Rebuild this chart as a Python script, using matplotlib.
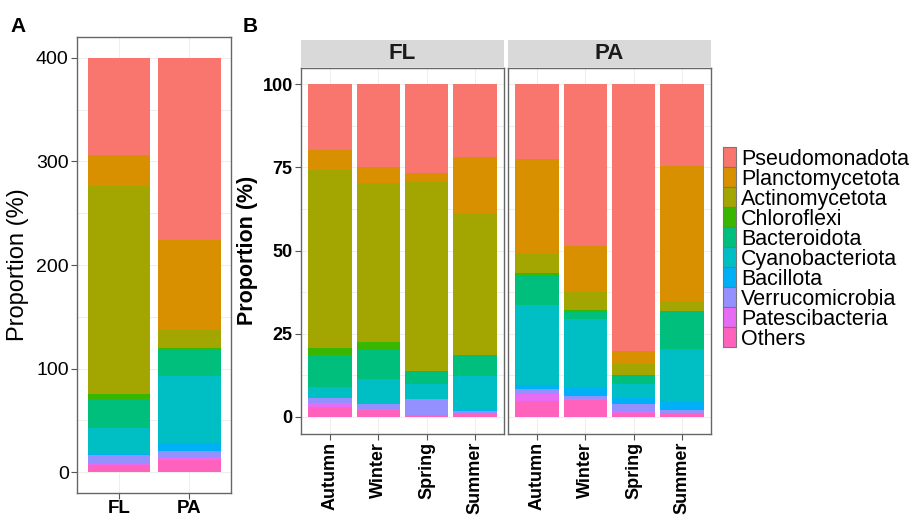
import numpy as np
import matplotlib
matplotlib.use("Agg")
import matplotlib.pyplot as plt
from matplotlib.patches import Rectangle
from matplotlib.ticker import MultipleLocator

plt.rcParams['font.family'] = ['Liberation Sans', 'DejaVu Sans']

# phyla in legend order (top of stack first)
phyla = ['Pseudomonadota', 'Planctomycetota', 'Actinomycetota', 'Chloroflexi',
         'Bacteroidota', 'Cyanobacteriota', 'Bacillota', 'Verrucomicrobia',
         'Patescibacteria', 'Others']
colors = ['#F8766D', '#D89000', '#A3A500', '#39B600', '#00BF7D',
          '#00BFC4', '#00B0F6', '#9590FF', '#E76BF3', '#FF62BC']
seasons = ['Autumn', 'Winter', 'Spring', 'Summer']
fractions = ['FL', 'PA']

# relative abundance (%) per phylum (rows) and season (columns)
fl_props = [
    [19.8, 25.0, 26.6, 22.0],
    [6.1, 4.8, 2.9, 16.8],
    [53.5, 47.7, 56.7, 42.6],
    [2.0, 2.2, 0.4, 0.1],
    [9.7, 8.9, 3.4, 6.3],
    [3.2, 7.4, 4.5, 10.2],
    [0.1, 0.1, 0.1, 0.1],
    [1.5, 1.5, 4.8, 0.6],
    [1.0, 0.2, 0.1, 0.1],
    [3.1, 2.2, 0.5, 1.2],
]
pa_props = [
    [22.4, 48.5, 80.1, 24.7],
    [28.7, 14.1, 3.9, 40.6],
    [5.8, 5.4, 3.5, 2.8],
    [0.4, 0.1, 0.1, 0.1],
    [9.0, 2.5, 2.6, 11.5],
    [24.1, 20.8, 4.1, 15.6],
    [1.3, 2.2, 1.7, 2.5],
    [1.3, 1.1, 2.6, 1.0],
    [2.3, 0.3, 0.1, 0.1],
    [4.7, 5.0, 1.3, 1.1],
]

W, H = 919, 516
fig = plt.figure(figsize=(W / 100, H / 100), dpi=100)


def px_axes(x0, y0, x1, y1):
    return fig.add_axes([x0 / W, 1 - y1 / H, (x1 - x0) / W, (y1 - y0) / H])


def style(ax, ystep):
    ax.set_facecolor('white')
    for s in ax.spines.values():
        s.set_color('#666666')
        s.set_linewidth(1.0)
    ax.yaxis.set_minor_locator(MultipleLocator(ystep / 2))
    ax.grid(True, which='both', color='#EBEBEB', linewidth=0.6)
    ax.set_axisbelow(True)
    ax.tick_params(axis='both', which='major', length=4, color='#555555', width=0.8, pad=2)
    ax.tick_params(axis='both', which='minor', length=0)


def stack(ax, table, x):
    bottom = np.zeros(len(x))
    for i in range(len(phyla) - 1, -1, -1):
        vals = np.array(table[i], dtype=float)
        ax.bar(x, vals, width=0.9, bottom=bottom, color=colors[i], linewidth=0)
        bottom += vals


# ---- panel A: all seasons stacked per fraction
axA = px_axes(77, 37, 231, 493)
style(axA, 100)
a_table = [[sum(fl_props[i]), sum(pa_props[i])] for i in range(len(phyla))]
stack(axA, a_table, np.arange(1, 3))
axA.set_xlim(0.4, 2.6)
axA.set_ylim(-20, 420)
axA.set_xticks([1, 2])
axA.set_xticklabels(fractions, fontsize=13.5, fontweight='bold')
axA.tick_params(axis='x', pad=1)
axA.set_yticks([0, 100, 200, 300, 400])
axA.tick_params(axis='y', labelsize=14)
axA.set_ylabel('Proportion (%)', fontsize=17, labelpad=5)
fig.text(10 / W, 1 - 27 / H, 'A', fontsize=15, fontweight='bold', va='center')

# ---- panel B: seasons within fractions
panels = [(301, 504, fl_props, 'FL'), (508, 711, pa_props, 'PA')]
for k, (x0, x1, table, name) in enumerate(panels):
    ax = px_axes(x0, 67.5, x1, 433.5)
    style(ax, 25)
    stack(ax, table, np.arange(1, 5))
    ax.set_xlim(0.4, 4.6)
    ax.set_ylim(-5, 105)
    ax.set_xticks(np.arange(1, 5))
    ax.set_xticklabels(seasons, rotation=90, fontsize=13, fontweight='bold')
    ax.set_yticks([0, 25, 50, 75, 100])
    if k == 0:
        ax.set_yticklabels(['0', '25', '50', '75', '100'], fontsize=13, fontweight='bold')
        ax.set_ylabel('Proportion (%)', fontsize=15.5, fontweight='bold', labelpad=3)
    else:
        ax.tick_params(axis='y', labelleft=False, length=0)
    strip = px_axes(x0, 40, x1, 66.5)
    strip.set_facecolor('#D9D9D9')
    strip.set_xticks([])
    strip.set_yticks([])
    for s in strip.spines.values():
        s.set_visible(False)
    strip.text(0.5, 0.5, name, transform=strip.transAxes, ha='center', va='center',
               fontsize=16, fontweight='bold', color='#1A1A1A')

fig.text(243 / W, 1 - 27 / H, 'B', fontsize=15, fontweight='bold', va='center')

# legend drawn as keys + labels in figure pixels
key_x, key_top, key_w, key_h = 723, 147, 13, 20
for i, (name, c) in enumerate(zip(phyla, colors)):
    y0 = key_top + i * key_h
    fig.patches.append(Rectangle((key_x / W, 1 - (y0 + key_h) / H), key_w / W, key_h / H,
                                 transform=fig.transFigure, facecolor=c,
                                 edgecolor='#777777', linewidth=0.8))
    fig.text((key_x + key_w + 5) / W, 1 - (y0 + key_h / 2) / H, name,
             fontsize=15.5, va='center_baseline', ha='left')

fig.savefig('out.png', dpi=100)
